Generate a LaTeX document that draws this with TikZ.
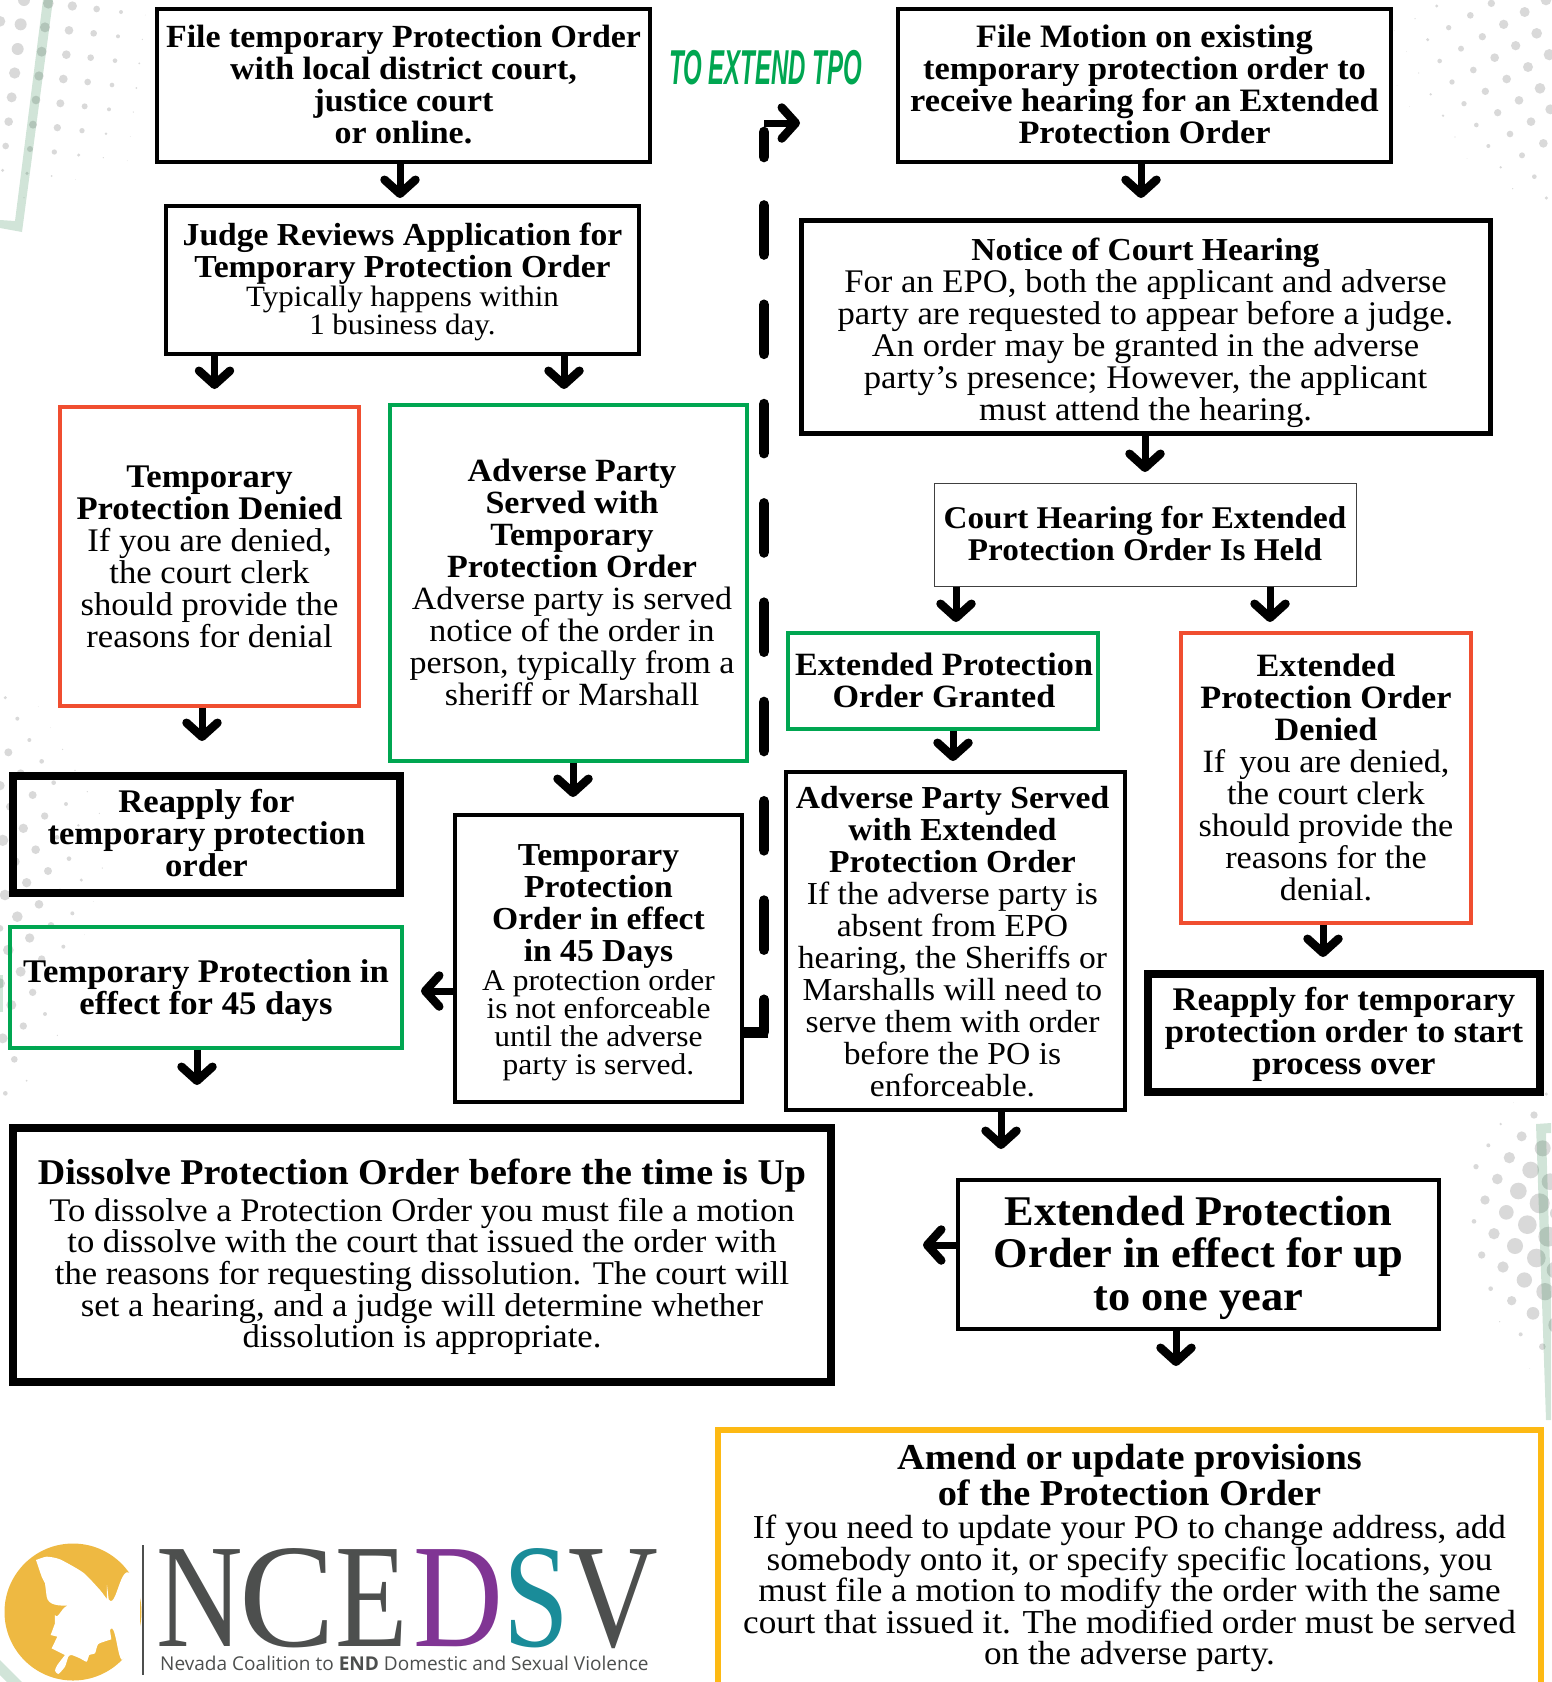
\documentclass[tikz,border=0pt]{standalone}
\usepackage{fontspec}
\setmainfont{Liberation Serif}[FakeStretch=1.05]
\newfontfamily\logofont{Liberation Serif}
\newfontfamily\capfont{Open Sans}
\newfontfamily\headfont{Liberation Sans}
\usetikzlibrary{arrows.meta}
\definecolor{ngreen}{HTML}{00A651}
\definecolor{nred}{HTML}{F04E30}
\definecolor{nyellow}{HTML}{FDB913}
\definecolor{ndot}{HTML}{D9D9D9}
\definecolor{nband}{HTML}{18783C}
\definecolor{ngold}{HTML}{EEB942}
\definecolor{ngrey}{HTML}{4D4F4E}
\definecolor{npurple}{HTML}{803594}
\definecolor{nteal}{HTML}{1A8C99}
\newcommand{\fz}[2]{\fontsize{#1}{#2}\selectfont}
\newcommand{\tb}[1]{\textbf{#1}}
\newcommand{\bx}[8]{\node[#6, minimum width={(#4-#2)*1pt}, minimum height={(#5-#3)*1pt}] (#1) at ({(#2+#4)/2},{(#3+#5)/2}) {};
  \node[txt,#7] (#1t) at (#1.center) {#8};}
\tikzset{
  base/.style={draw=black,inner sep=0pt},
  txt/.style={align=center,inner sep=0pt,text=black,font=\fz{32.3}{32}},
  blk/.style={base,line width=3.5pt},
  blkb/.style={base,line width=5pt},
  thick7/.style={base,line width=7.5pt},
  thin1/.style={base,line width=1pt,draw=black!75},
  redb/.style={base,draw=nred,line width=3.5pt},
  grnb/.style={base,draw=ngreen,line width=3.5pt},
  yelb/.style={base,draw=nyellow,line width=6.5pt},
  arr/.style={line width=7pt,-{Straight Barb[length=14pt,width=31pt,round,line width=8.5pt]}},
  dashv/.style={line width=10.7pt,line cap=round},
  band/.style={fill=nband,opacity=.2},
  dotf/.style={fill=ndot},
  ltr/.style={inner sep=0pt,anchor=base west}
}
\begin{document}
\begin{tikzpicture}[x=1pt,y=-1pt]
\useasboundingbox (0,0) rectangle (1551,1682);
% dots top-left
\begin{scope}[scale=1/3]
\foreach \a/\b/\r in {145/10/16,135/82/15,125/155/15,117/228/14,108/300/13,99/374/12,90/447/9,81/520/5,72/593/2,217/18/14,207/91/13,199/164/13,190/237/13,181/310/12,172/383/11,163/456/8,155/528/3,227/538/1,290/27/10,281/100/10,272/173/10,263/246/10,254/319/9,246/392/8,236/465/5,310/473/2,363/36/6,354/109/6,345/182/7,336/255/7,327/328/6,318/401/4,382/482/1,436/45/1,427/118/2,418/190/3,409/264/3,400/336/2,391/409/1,72/0/18,62/73/18,53/147/18,44/219/17,35/292/15,26/365/13,17/438/10,8/511/5,0/64/16}
  \fill[dotf] (\a,\b) circle[radius=\r];
\end{scope}
% dots top-right
\begin{scope}[shift={(1391,0)},scale=1/3]
\foreach \a/\b/\r in {137/18/5,72/56/2,10/92/1,301/10/11,238/46/10,173/83/8,110/119/5,46/155/1,465/0/16,401/36/15,338/73/14,274/110/11,210/146/9,146/183/7,83/219/2,18/256/1,437/100/16,374/137/14,311/173/13,247/210/10,183/246/8,119/283/4,55/320/1,475/164/17,411/201/15,347/237/13,283/274/11,219/311/8,156/347/4,192/411/2,447/265/16,384/301/13,320/338/11,256/375/7,478/328/15,420/365/13,357/402/10,292/438/6,228/475/1,457/430/13,393/466/9,329/502/4,430/530/7,365/566/2,466/594/5}
  \fill[dotf] (\a,\b) circle[radius=\r];
\end{scope}
% dots left middle
\begin{scope}[shift={(0,680)},scale=1/3]
\foreach \a/\b/\r in {16/53/5,52/116/6,88/180/6,125/244/7,161/308/7,198/372/6,235/436/4,25/217/12,62/280/12,0/317/14,98/345/12,134/408/11,171/472/7,207/536/7,244/600/5,30/380/12,70/445/14,107/509/13,144/573/12,180/635/9,217/700/6,8/481/17,45/545/14,80/608/14,117/673/13,153/736/10,190/800/6,15/645/16,52/710/16,89/774/14,125/837/11,0/745/10,25/810/16,62/875/15,98/937/11,135/1002/6,172/1066/2,0/910/15,34/975/15,70/1038/11,107/1102/5,8/1075/15,43/1138/10,80/1202/3,16/1240/7,115/80/1,152/143/1,188/208/2,225/271/2,262/335/2,298/400/2,270/464/2,307/564/2,280/664/1,254/764/1}
  \fill[dotf] (\a,\b) circle[radius=\r];
\end{scope}
% dots bottom-right
\begin{scope}[shift={(1400,1080)},scale=1/3]
\foreach \a/\b/\r in {439/42/5,340/68/1,402/105/11,302/132/4,365/169/15,265/196/6,428/205/24,328/233/17,392/270/25,228/260/8,292/297/16,355/333/25,450/305/25,255/360/14,319/397/22,419/370/30,382/434/28,222/424/7,282/461/17,345/498/24,445/470/30,245/525/11,309/561/17,409/534/28,373/600/23,272/626/7,335/662/14,435/635/26,399/700/19,299/725/2,362/763/6,427/800/10,389/865/1,470/735/25,465/570/25,470/400/20}
  \fill[dotf] (\a,\b) circle[radius=\r];
\end{scope}
% pale green bands
\fill[band] (43,0) -- (53,0) -- (22,232) -- (0,228) -- (0,220) -- (15,221) -- cycle;
\fill[band] (1536,1124) -- (1551,1123) -- (1551,1133) -- (1546,1133) -- (1551,1300) -- (1551,1420) -- (1546,1420) -- cycle;
\fill[band] (0,1660) -- (22,1682) -- (7,1682) -- (0,1675) -- cycle;
\fill[band] (0,975) -- (3,975) -- (3,1012) -- (0,1012) -- cycle;

% boxes
\bx{n1}{157}{9}{650}{162}{blk}{yshift=1pt}{\tb{File temporary Protection Order}\\\tb{with local district court,}\\\tb{justice court}\\\tb{or online.}}
\bx{n2}{166}{206}{639}{354}{blk}{yshift=-2pt,font=\fz{32}{32}}{\tb{Judge Reviews Application for}\\\tb{Temporary Protection Order}\\[-3pt]{\fz{29.5}{29}Typically happens within}\\[-4pt]{\fz{29.5}{29}1 business day.}}
\bx{n3}{60}{407}{359}{706}{redb}{font=\fz{33}{32}}{\tb{Temporary}\\\tb{Protection Denied}\\If you are denied,\\the court clerk\\should provide the\\reasons for denial}
\bx{n4}{390}{405}{747}{761}{grnb}{xshift=3.5pt,yshift=1pt,font=\fz{32.4}{32}}{\tb{Adverse Party}\\\tb{Served with}\\\tb{Temporary}\\\tb{Protection Order}\\Adverse party is served\\notice of the order in\\person, typically from a\\sheriff or Marshall}
\bx{n5}{13}{776}{400}{893}{thick7}{yshift=1pt,font=\fz{33}{32}}{\tb{Reapply for}\\\tb{temporary protection}\\\tb{order}}
\bx{n6}{10}{927}{402}{1048}{grnb}{yshift=-3pt,font=\fz{33}{32}}{\tb{Temporary Protection in}\\\tb{effect for 45 days}}
\bx{n7}{455}{815}{742}{1102}{blk}{yshift=-4pt,font=\fz{32}{32}}{\tb{Temporary}\\\tb{Protection}\\\tb{Order in effect}\\\tb{in 45 Days}\\[-3pt]{\fz{30}{28}A protection order}\\[-4pt]{\fz{30}{28}is not enforceable}\\[-4pt]{\fz{30}{28}until the adverse}\\[-4pt]{\fz{30}{28}party is served.}}
\bx{n8}{13}{1128}{831}{1382}{thick7}{yshift=-2pt,font=\fz{33}{31.6}}{{\fz{36.2}{36}\tb{Dissolve Protection Order before the time is Up}}\\[5pt]To dissolve a Protection Order you must file a motion\\to dissolve with the court that issued the order with\\the reasons for requesting dissolution. The court will\\set a hearing, and a judge will determine whether\\dissolution is appropriate.}
\bx{n9}{898}{9}{1391}{162}{blk}{yshift=1pt,font=\fz{32.7}{32}}{\tb{File Motion on existing}\\\tb{temporary protection order to}\\\tb{receive hearing for an Extended}\\\tb{Protection Order}}
\bx{n10}{801}{220}{1490}{433}{blkb}{yshift=-6pt,font=\fz{33}{32}}{{\fz{32}{32}\tb{Notice of Court Hearing}}\\For an EPO, both the applicant and adverse\\party are requested to appear before a judge.\\An order may be granted in the adverse\\party’s presence; However, the applicant\\must attend the hearing.}
\bx{n11}{934}{483}{1356}{586}{thin1}{yshift=1pt,font=\fz{31.6}{32}}{\tb{Court Hearing for Extended}\\\tb{Protection Order Is Held}}
\bx{n12}{788}{633}{1098}{729}{grnb}{xshift=1pt,yshift=1pt,font=\fz{32.5}{32}}{\tb{Extended Protection}\\\tb{Order Granted}}
\bx{n13}{1181}{633}{1471}{923}{redb}{yshift=1pt,font=\fz{32.6}{32}}{\tb{Extended}\\\tb{Protection Order}\\\tb{Denied}\\If\, you are denied,\\the court clerk\\should provide the\\reasons for the\\denial.}
\bx{n14}{786}{772}{1125}{1110}{blk}{xshift=-3pt,yshift=-1pt,font=\fz{32}{32}}{\tb{Adverse Party Served}\\\tb{with Extended}\\\tb{Protection Order}\\If the adverse party is\\absent from EPO\\hearing, the Sheriffs or\\Marshalls will need to\\serve them with order\\before the PO is\\enforceable.}
\bx{n15}{1148}{974}{1540}{1092}{thick7}{yshift=-1pt,font=\fz{33}{32}}{\tb{Reapply for temporary}\\\tb{protection order to start}\\\tb{process over}}
\bx{n16}{958}{1180}{1439}{1329}{blk}{yshift=-3pt,font=\fz{42.3}{42.4}}{\tb{Extended Protection}\\\tb{Order in effect for up}\\\tb{to one year}}
\bx{n17}{718}{1430}{1541}{1690}{yelb}{yshift=2pt,font=\fz{33.5}{31.5}}{{\fz{36.5}{35.5}\tb{Amend or update provisions}}\\[1pt]{\fz{36.5}{35.5}\tb{of the Protection Order}}\\[2pt]If you need to update your PO to change address, add\\somebody onto it, or specify specific locations, you\\must file a motion to modify the order with the same\\court that issued it. The modified order must be served\\on the adverse party.}

% arrow ends
\coordinate (a1) at (400,198);
\coordinate (a2) at (214.5,389);
\coordinate (a3) at (564,389);
\coordinate (a4) at (202,741);
\coordinate (a5) at (573,797);
\coordinate (a6) at (421,991);
\coordinate (a7) at (197,1085);
\coordinate (a8) at (1141,198);
\coordinate (a9) at (1145,472);
\coordinate (a10) at (956,622);
\coordinate (a11) at (1270,622);
\coordinate (a12) at (953,761);
\coordinate (a13) at (1323,957);
\coordinate (a14) at (1001,1149);
\coordinate (a15) at (923,1245);
\coordinate (a16) at (1176,1366);
\draw[arr] (n1.south -| a1) -- (a1);
\draw[arr] (n2.south -| a2) -- (a2);
\draw[arr] (n2.south -| a3) -- (a3);
\draw[arr] (n3.south -| a4) -- (a4);
\draw[arr] (n4.south -| a5) -- (a5);
\draw[arr] (n7.west |- a6) -- (a6);
\draw[arr] (n6.south -| a7) -- (a7);
\draw[arr] (n9.south -| a8) -- (a8);
\draw[arr] (n10.south -| a9) -- (a9);
\draw[arr] (n11.south -| a10) -- (a10);
\draw[arr] (n11.south -| a11) -- (a11);
\draw[arr] (n12.south -| a12) -- (a12);
\draw[arr] (n13.south -| a13) -- (a13);
\draw[arr] (n14.south -| a14) -- (a14);
\draw[arr] (n16.west |- a15) -- (a15);
\draw[arr] (n16.south -| a16) -- (a16);

% dashed return line
\coordinate (d0) at (764,1032);
\coordinate (d1) at (764,1000);
\coordinate (d2) at (764,205.5);
\coordinate (d3) at (764,157);
\coordinate (d4) at (764,132);
\coordinate (d5) at (764,123);
\coordinate (d6) at (800,123);
\draw[line width=11pt] (n7.east |- d0) -- (d0) -- ++(4,0);
\draw[dashv] (d0) -- (d1);
\draw[dashv,dash pattern=on 49pt off 50.3pt] (d2) -- (d1);
\draw[dashv] (d3) -- (d4);
\draw[arr] (d5) -- (d6);

% heading
\node[ltr,text=ngreen] (h) at (669,84) {\fontsize{49}{49}\headfont\bfseries\itshape\scalebox{.49}[1]{TO EXTEND TPO}};

% logo
\fill[ngold] (73,1612) circle[radius=68.5];
\begin{scope}[shift={(0,1540)},scale=1/3]
\fill[white] plot[smooth,tension=.35] coordinates {(108,60) (140,50) (180,58) (250,98) (300,150) (321,178)}
  -- (321,135) -- (326,178) to[out=-55,in=140] (390,100) -- (420,100) -- (420,360) -- (372,355) to[out=-120,in=60] (330,270) -- (334,298)
  -- plot[smooth,tension=.35] coordinates {(334,298) (295,312) (285,340) (268,345) (260,365) (240,355) (215,345) (205,350) (195,380) (175,402) (165,392) (172,375) (195,345)}
  -- (155,325) -- (172,290) -- (152,285) -- (165,250) -- (165,225) to[out=-60,in=180] (205,197) to[out=180,in=-80] (140,170) -- (135,130) -- (125,110) -- cycle;
\end{scope}
\coordinate (lg1) at (143,1545);
\coordinate (lg2) at (143,1675);
\draw[ngrey,line width=1.6pt] (lg1) -- (lg2);
\node[ltr,text=ngrey] (L1) at (156,1646) {\fontsize{148}{148}\logofont\scalebox{.81}[1]{N}};
\node[ltr,text=ngrey] (L2) at (239,1646) {\fontsize{148}{148}\logofont\scalebox{.97}[1]{C}};
\node[ltr,text=ngrey] (L3) at (335.5,1646) {\fontsize{148}{148}\logofont\scalebox{.8}[1]{E}};
\node[ltr,text=npurple] (L4) at (413,1646) {\fontsize{148}{148}\logofont\scalebox{.84}[1]{D}};
\node[ltr,text=nteal] (L5) at (503.5,1646) {\fontsize{148}{148}\logofont\scalebox{.8}[1]{S}};
\node[ltr,text=ngrey] (L6) at (568,1646) {\fontsize{148}{148}\logofont\scalebox{.84}[1]{V}};
\node[ltr,text=ngrey] (cap) at (160,1670) {\fontsize{19.04}{20}\capfont Nevada Coalition to \textbf{END} Domestic and Sexual Violence};
\end{tikzpicture}
\end{document}
